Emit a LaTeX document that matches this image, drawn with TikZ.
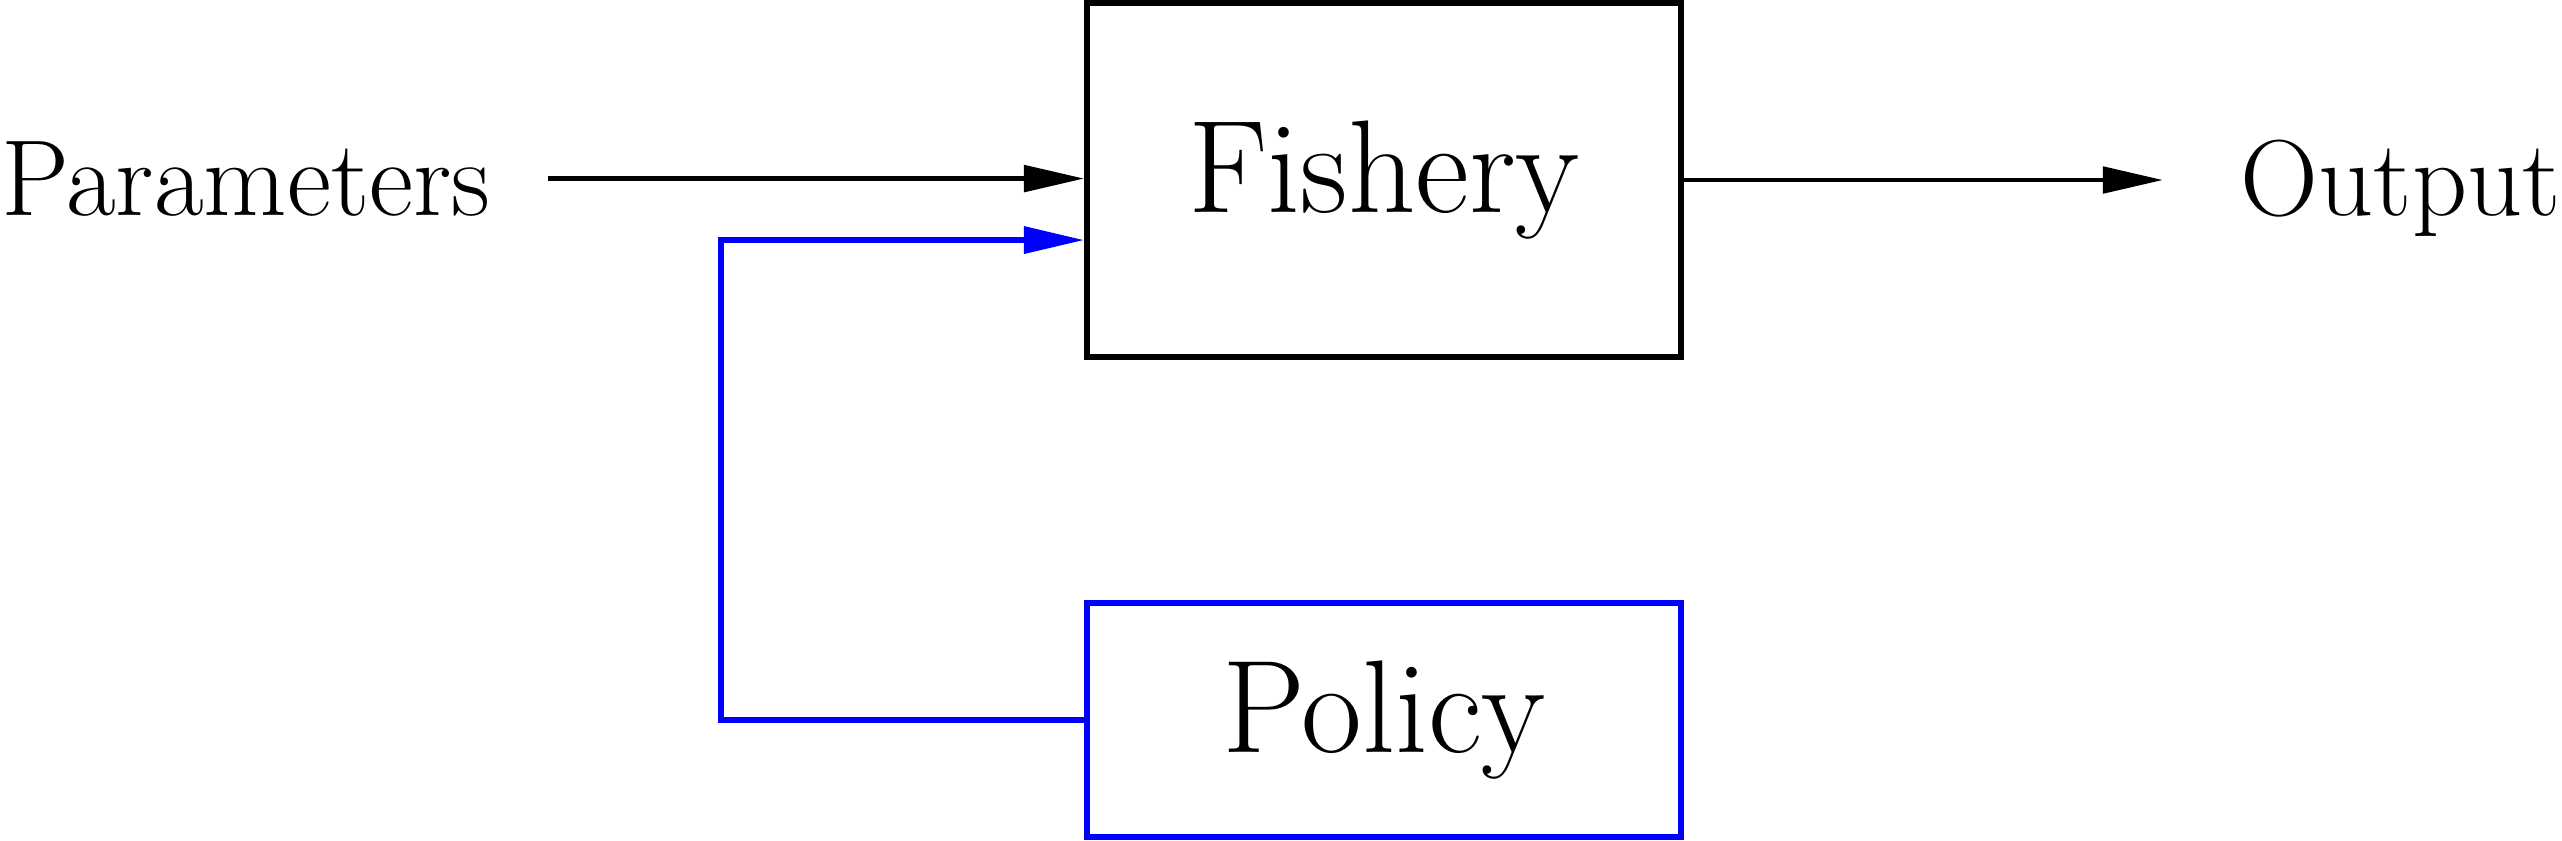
\documentclass[tikz,border=0pt]{standalone}
\usepackage{tikz}
\usetikzlibrary{calc, positioning, arrows.meta}

\begin{document}
\begin{tikzpicture}[
        block/.style={draw, line width=1pt, minimum width=3.478cm, inner sep=0pt, font=\fontsize{22}{27}\selectfont},
        label/.style={inner sep=0pt, font=\fontsize{18}{22}\selectfont},
        flow/.style={-{Triangle[length=10pt, width=4.4pt]}, line width=0.7pt},
    ]
    \useasboundingbox (0, 0) rectangle (15, 4.918);
    \node[block, minimum height=2.071cm] (fishery) at (8.103, 3.864) {Fishery};
    \node[block, draw=blue, minimum height=1.370cm] (policy) at (8.103, 0.703) {Policy};
    \node[label, anchor=base west] (param) at (0, 3.659) {Parameters};
    \node[label, anchor=base east] (out) at (15, 3.659) {Output};
    \coordinate (outin) at ($(fishery.east -| out.west) + (-0.45, 0)$);
    \draw[flow] ([xshift=0.334cm]param.east) -- (param.east -| fishery.west);
    \draw[flow] (fishery.east) -- (outin);
    \draw[flow, draw=blue, line width=0.9pt] (policy.west) -- ++(-2.125, 0) |- ([yshift=-10pt]fishery.west);
\end{tikzpicture}
\end{document}
